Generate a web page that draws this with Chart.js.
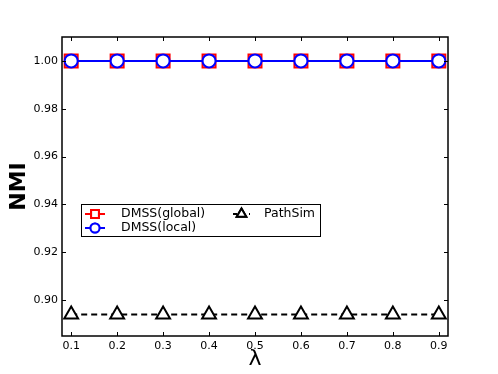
<!DOCTYPE html>
<html>
<head>
<meta charset="utf-8">
<script src="https://cdn.jsdelivr.net/npm/chart.js@4/dist/chart.umd.min.js"></script>
<style>
  html, body { margin: 0; padding: 0; background: #fff; }
  #wrap { width: 498px; height: 374px; }
</style>
</head>
<body>
<div id="wrap"><canvas id="chart" width="498" height="374"></canvas></div>
<script>
const lambdas = [0.1, 0.2, 0.3, 0.4, 0.5, 0.6, 0.7, 0.8, 0.9];
const dmssGlobal = [1.0, 1.0, 1.0, 1.0, 1.0, 1.0, 1.0, 1.0, 1.0];
const dmssLocal = [1.0, 1.0, 1.0, 1.0, 1.0, 1.0, 1.0, 1.0, 1.0];
const pathSim = [0.894, 0.894, 0.894, 0.894, 0.894, 0.894, 0.894, 0.894, 0.894];
const yTicks = [0.90, 0.92, 0.94, 0.96, 0.98, 1.00];
const xTicks = [0.1, 0.2, 0.3, 0.4, 0.5, 0.6, 0.7, 0.8, 0.9];

const font = "'DejaVu Sans', sans-serif";
const pts = arr => lambdas.map((x, i) => ({x: x, y: arr[i]}));

const datasets = [
    {
        label: 'DMSS(global)',
        data: pts(dmssGlobal),
        order: 2,
        borderColor: '#ff0000',
        backgroundColor: '#ffffff',
        borderWidth: 2,
        pointStyle: 'rect',
        pointRadius: 9.2,
        pointBorderWidth: 2,
        legendRadius: 5.5
    },
    {
        label: 'DMSS(local)',
        data: pts(dmssLocal),
        order: 1,
        borderColor: '#0000ff',
        backgroundColor: '#ffffff',
        borderWidth: 2,
        pointStyle: 'circle',
        pointRadius: 6.5,
        pointBorderWidth: 2,
        legendRadius: 4.5
    },
    {
        label: 'PathSim',
        data: pts(pathSim),
        order: 3,
        borderColor: '#000000',
        backgroundColor: '#ffffff',
        borderWidth: 2,
        borderDash: [6, 4],
        pointStyle: 'triangle',
        pointRadius: 8,
        pointBorderWidth: 2,
        legendRadius: 5.5
    }
];

// frame, inward ticks on all sides, and the two-column legend
const framePlugin = {
    id: 'frame',
    afterDraw(chart) {
        const ctx = chart.ctx;
        const a = chart.chartArea;
        const xs = chart.scales.x, ys = chart.scales.y;
        ctx.save();
        ctx.strokeStyle = '#000';
        ctx.lineWidth = 1;
        ctx.beginPath();
        xTicks.forEach(v => {
            const px = Math.round(xs.getPixelForValue(v)) + 0.5;
            ctx.moveTo(px, a.bottom); ctx.lineTo(px, a.bottom - 4);
            ctx.moveTo(px, a.top); ctx.lineTo(px, a.top + 4);
        });
        yTicks.forEach(v => {
            const py = Math.round(ys.getPixelForValue(v)) + 0.5;
            ctx.moveTo(a.left, py); ctx.lineTo(a.left + 4, py);
            ctx.moveTo(a.right, py); ctx.lineTo(a.right - 4, py);
        });
        ctx.stroke();
        ctx.lineWidth = 1.5;
        ctx.strokeRect(a.left, a.top, a.right - a.left, a.bottom - a.top);

        // legend
        const bx = 81, by = 204, bw = 239, bh = 32;
        ctx.fillStyle = '#fff';
        ctx.fillRect(bx, by, bw, bh);
        ctx.lineWidth = 1;
        ctx.strokeRect(bx + 0.5, by + 0.5, bw, bh);
        const slots = [
            {x: 85, y: 214, len: 20, tx: 121},
            {x: 85, y: 228, len: 20, tx: 121},
            {x: 233, y: 214, len: 17, tx: 264}
        ];
        ctx.font = '12.5px ' + font;
        ctx.textBaseline = 'middle';
        datasets.forEach((ds, i) => {
            const s = slots[i];
            ctx.strokeStyle = ds.borderColor;
            ctx.lineWidth = 2;
            ctx.setLineDash(ds.borderDash ? [4, 4] : []);
            ctx.beginPath();
            ctx.moveTo(s.x, s.y);
            ctx.lineTo(s.x + s.len, s.y);
            ctx.stroke();
            ctx.setLineDash([]);
            Chart.helpers.drawPoint(ctx, {
                pointStyle: ds.pointStyle,
                radius: ds.legendRadius,
                rotation: 0,
                borderWidth: 2
            }, s.x + s.len / 2, s.y);
            ctx.fillStyle = '#fff';
            ctx.strokeStyle = ds.borderColor;
            ctx.lineWidth = 2;
            ctx.fill();
            ctx.stroke();
            ctx.fillStyle = '#000';
            ctx.fillText(ds.label, s.tx, s.y);
        });
        ctx.restore();
    }
};

new Chart(document.getElementById('chart'), {
    type: 'line',
    data: { datasets: datasets },
    options: {
        responsive: false,
        animation: false,
        layout: { padding: { left: 0, right: 50, top: 37, bottom: 0 } },
        plugins: { legend: { display: false }, tooltip: { enabled: false } },
        scales: {
            x: {
                type: 'linear',
                min: 0.08,
                max: 0.92,
                afterBuildTicks: s => { s.ticks = xTicks.map(v => ({value: v})); },
                afterFit: s => { s.height = 38; },
                grid: { display: false, drawTicks: false },
                border: { display: false },
                ticks: {
                    padding: 4,
                    color: '#000',
                    font: { family: font, size: 11 },
                    callback: v => v.toFixed(1)
                },
                title: {
                    display: true,
                    text: 'λ',
                    color: '#000',
                    padding: { top: 0, bottom: 2 },
                    font: { family: font, size: 22 }
                }
            },
            y: {
                min: 0.885,
                max: 1.01,
                afterBuildTicks: s => { s.ticks = yTicks.map(v => ({value: v})); },
                afterFit: s => { s.width = 62; },
                grid: { display: false, drawTicks: false },
                border: { display: false },
                ticks: {
                    padding: 4,
                    color: '#000',
                    font: { family: font, size: 11 },
                    callback: v => v.toFixed(2)
                },
                title: {
                    display: true,
                    text: 'NMI',
                    color: '#000',
                    padding: { top: 6, bottom: 0 },
                    font: { family: font, size: 22, weight: 'bold' }
                }
            }
        }
    },
    plugins: [framePlugin]
});
</script>
</body>
</html>
